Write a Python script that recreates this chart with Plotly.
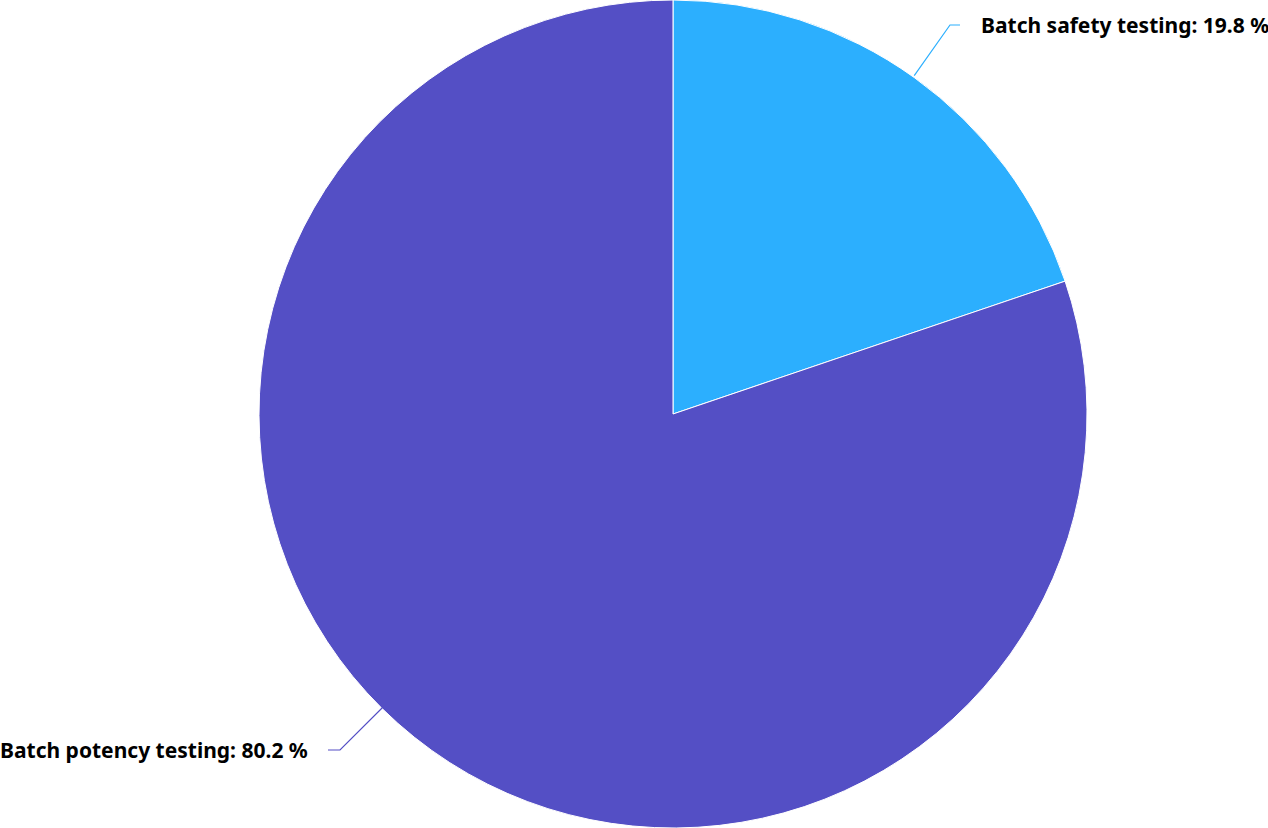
import math
import plotly.graph_objects as go

labels = ["Batch safety testing", "Batch potency testing"]
values = [19.8, 80.2]
colors = ["#2caffe", "#544fc5"]

W, H = 1268, 828
CX, CY, R = 673, 412, 414

# label layout (pixels): elbow point, end of horizontal stub, text anchor
label_layout = [
    dict(anchor_r=R, elbow=(950, 25), stub=(960, 25), text=(979, 25), xanchor="left"),
    dict(anchor_angle=224.5, anchor_r=R, elbow=(340, 750), stub=(328, 750), text=(310, 750), xanchor="right"),
]

fig = go.Figure()
fig.add_trace(go.Pie(
    labels=labels, values=values, sort=False, direction="clockwise", rotation=0,
    marker=dict(colors=colors, line=dict(color="white", width=1)),
    textinfo="none", hoverinfo="label+percent", showlegend=False,
    domain=dict(x=[(CX - R) / W, (CX + R) / W], y=[0, 1]),
))

def px(x):
    return x / W

def py(y):
    return 1 - y / H

total = sum(values)
cum = 0
for lab, val, col, lay in zip(labels, values, colors, label_layout):
    mid = (cum + val / 2) / total * 360
    cum += val
    ang = lay.get("anchor_angle", mid)
    ax = CX + lay["anchor_r"] * math.sin(math.radians(ang))
    ay = CY - lay["anchor_r"] * math.cos(math.radians(ang))
    ex, ey = lay["elbow"]
    sx, sy = lay["stub"]
    fig.add_shape(type="path", xref="paper", yref="paper",
                  path=f"M {px(ax)} {py(ay)} L {px(ex)} {py(ey)} L {px(sx)} {py(sy)}",
                  line=dict(color=col, width=1.2))
    tx, ty = lay["text"]
    fig.add_annotation(x=px(tx), y=py(ty), xref="paper", yref="paper",
                       text=f"<b>{lab}: {val:.1f} %</b>", showarrow=False,
                       xanchor=lay["xanchor"], yanchor="middle",
                       font=dict(family="Noto Sans", size=21, color="black"))

fig.update_layout(width=W, height=H, margin=dict(l=0, r=0, t=0, b=0),
                  paper_bgcolor="white", plot_bgcolor="white")
fig.write_html("out.html", config={"displayModeBar": False},
               post_script="document.body.style.margin='0';document.body.style.padding='0';")
